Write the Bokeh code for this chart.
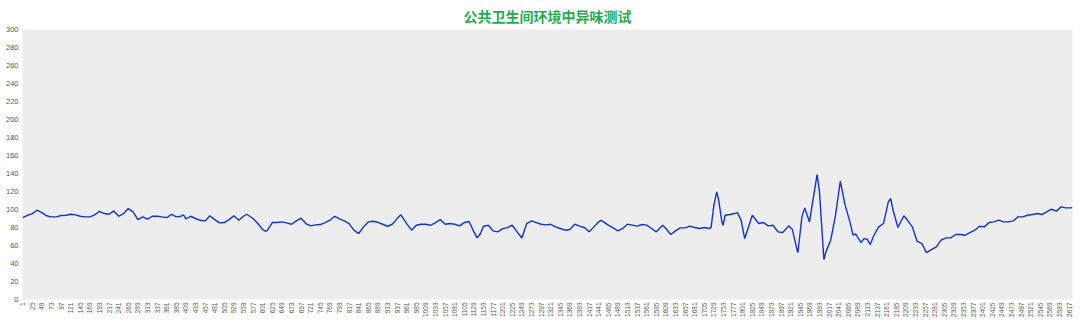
from math import pi
from bokeh.plotting import figure
from bokeh.models import FixedTicker, Range1d
from bokeh.embed import file_html
from bokeh.resources import INLINE

title_text = "公共卫生间环境中异味测试"
n_samples = 2625

sample_index = [
    1, 13, 25, 37, 49, 61, 73, 85, 97, 109, 121, 133, 145, 157, 169, 181, 193, 205, 217, 229,
    241, 253, 265, 277, 289, 301, 313, 325, 337, 349, 361, 373, 385, 397, 403, 409, 421, 433, 445, 457,
    469, 481, 493, 505, 517, 529, 541, 553, 561, 577, 589, 601, 609, 613, 625, 637, 649, 661, 673, 685,
    697, 709, 721, 733, 745, 757, 769, 781, 793, 805, 817, 829, 841, 853, 865, 877, 889, 901, 913, 925,
    937, 946, 961, 973, 985, 997, 1009, 1021, 1033, 1045, 1057, 1069, 1081, 1093, 1105, 1117, 1129, 1137, 1145, 1153,
    1165, 1177, 1189, 1201, 1213, 1225, 1237, 1249, 1261, 1273, 1285, 1297, 1309, 1321, 1333, 1345, 1357, 1369, 1381, 1393,
    1405, 1417, 1429, 1441, 1447, 1453, 1465, 1477, 1489, 1501, 1513, 1525, 1537, 1549, 1561, 1573, 1585, 1601, 1609, 1621,
    1633, 1645, 1657, 1669, 1681, 1693, 1705, 1717, 1722, 1729, 1736, 1741, 1749, 1752, 1757, 1769, 1781, 1788, 1797, 1806,
    1817, 1825, 1841, 1853, 1865, 1877, 1889, 1901, 1916, 1925, 1937, 1939, 1949, 1956, 1968, 1975, 1987, 1993, 1998, 2004,
    2009, 2021, 2033, 2045, 2057, 2069, 2077, 2083, 2097, 2104, 2112, 2120, 2129, 2141, 2153, 2165, 2171, 2177, 2189, 2204,
    2213, 2225, 2237, 2249, 2260, 2273, 2285, 2297, 2309, 2321, 2333, 2345, 2357, 2369, 2381, 2393, 2405, 2417, 2429, 2441,
    2453, 2465, 2477, 2489, 2501, 2513, 2525, 2537, 2549, 2561, 2573, 2585, 2597, 2609, 2621, 2625,
]

odor_value = [
    91.0, 93.6, 95.5, 99.2, 96.6, 93.0, 91.8, 91.8, 93.3, 93.6, 94.7, 94.0, 92.5, 91.8, 91.8, 94.0, 98.0, 95.5, 94.7, 98.4,
    92.5, 95.5, 101.0, 97.3, 88.8, 91.8, 89.2, 92.5, 92.5, 91.8, 91.0, 94.7, 91.8, 92.5, 94.0, 89.5, 92.5, 90.0, 88.0, 87.3,
    93.0, 88.8, 85.1, 85.5, 88.8, 93.0, 88.0, 92.5, 94.7, 90.0, 84.4, 77.7, 75.8, 77.0, 85.5, 85.5, 86.2, 85.1, 83.6, 87.3,
    90.3, 84.4, 81.8, 82.9, 83.3, 85.5, 88.1, 92.5, 89.5, 87.3, 84.4, 77.0, 73.3, 80.7, 86.2, 87.0, 85.8, 83.6, 81.4, 83.6,
    89.9, 94.3, 84.4, 77.0, 82.5, 83.6, 83.6, 82.5, 85.5, 88.8, 83.6, 84.4, 83.6, 81.8, 85.5, 86.6, 75.1, 68.4, 73.0, 81.4,
    82.5, 76.2, 75.1, 78.8, 79.9, 82.5, 75.1, 68.4, 84.4, 87.3, 85.5, 83.6, 82.9, 83.6, 80.7, 78.9, 77.0, 77.8, 83.7, 81.5,
    80.0, 75.2, 80.7, 86.3, 88.0, 86.3, 82.6, 79.6, 76.3, 78.9, 83.7, 82.6, 81.5, 83.3, 82.6, 78.9, 75.2, 82.6, 78.9, 72.2,
    76.3, 79.6, 79.6, 81.5, 80.0, 78.9, 80.0, 78.9, 80.0, 104.8, 119.6, 110.4, 86.0, 82.5, 93.6, 94.4, 95.5, 96.5, 88.0, 67.7,
    82.5, 93.6, 84.4, 85.5, 81.8, 82.5, 75.1, 74.4, 81.8, 78.1, 54.8, 52.2, 91.8, 101.8, 86.2, 106.0, 138.8, 119.6, 85.0, 44.4,
    52.9, 65.9, 93.6, 131.4, 104.8, 86.2, 71.4, 73.0, 63.3, 67.7, 67.0, 61.0, 71.4, 80.7, 84.4, 108.5, 112.2, 99.2, 80.0, 93.0,
    88.1, 80.7, 64.8, 62.2, 52.2, 55.5, 58.5, 65.9, 68.5, 68.5, 72.2, 72.2, 71.4, 74.4, 77.0, 81.4, 80.7, 85.5, 86.2, 88.1,
    86.2, 86.2, 87.3, 91.8, 91.8, 93.6, 94.4, 95.5, 94.4, 97.3, 100.3, 98.1, 102.9, 101.8, 101.8, 102.2,
]

x_ticks = list(range(1, n_samples + 1, 24))
y_ticks = list(range(0, 301, 20))

p = figure(width=1080, height=322, output_backend="svg", toolbar_location=None,
           x_range=Range1d(0.5, n_samples + 0.5), y_range=Range1d(0, 300),
           min_border_left=22, min_border_right=8, min_border_top=29, min_border_bottom=23)

p.title.text = title_text
p.title.align = "center"
p.title.vertical_align = "middle"
p.title.text_font = "Noto Sans CJK SC"
p.title.text_font_size = "14px"
p.title.text_font_style = "bold"
p.title.text_color = "#1DAF4E"
p.title.standoff = 6
p.title.offset = 0

p.background_fill_color = "#ededed"
p.border_fill_color = "white"
p.outline_line_color = None
p.xgrid.grid_line_color = None
p.ygrid.grid_line_color = None

p.line(sample_index, odor_value, line_color="#1233d4", line_width=1.4)

for ax in (p.xaxis[0], p.yaxis[0]):
    ax.axis_line_color = None
    ax.major_tick_line_color = None
    ax.minor_tick_line_color = None
    ax.major_tick_in = 0
    ax.major_tick_out = 0
    ax.minor_tick_in = 0
    ax.minor_tick_out = 0
    ax.major_label_text_font = "Liberation Sans"
    ax.major_label_text_color = "#595959"

p.yaxis[0].ticker = FixedTicker(ticks=y_ticks)
p.yaxis[0].major_label_text_font_size = "7.5px"
p.yaxis[0].major_label_standoff = 4

p.xaxis[0].ticker = FixedTicker(ticks=x_ticks)
p.xaxis[0].major_label_orientation = pi / 2
p.xaxis[0].major_label_text_font_size = "6.5px"
p.xaxis[0].major_label_standoff = 3

open("out.html", "w").write(file_html(p, INLINE))
